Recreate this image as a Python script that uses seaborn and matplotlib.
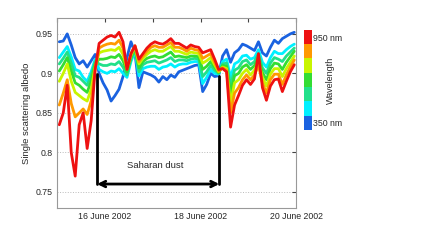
import pandas as pd
import matplotlib
matplotlib.use("Agg")
import matplotlib.pyplot as plt
from matplotlib.colors import ListedColormap, BoundaryNorm
from matplotlib.colorbar import ColorbarBase
import seaborn as sns

# sampling times (every 2 hours)
times = pd.date_range("2002-06-15 01:00", periods=60, freq="2h")

wavelengths = ["350 nm", "450 nm", "550 nm", "650 nm", "750 nm", "850 nm", "950 nm"]
colors = ["#1a62e0", "#00f0ff", "#22e08a", "#33dd33", "#c8f500", "#ff9900", "#ee1111"]

ssa_350 = [0.940, 0.941, 0.950, 0.936, 0.920, 0.912, 0.916, 0.908, 0.916, 0.924,
           0.900, 0.888, 0.879, 0.865, 0.872, 0.880, 0.896, 0.920, 0.940, 0.926,
           0.882, 0.902, 0.900, 0.898, 0.895, 0.889, 0.896, 0.892, 0.898, 0.895,
           0.902, 0.904, 0.906, 0.908, 0.910, 0.911, 0.877, 0.886, 0.900, 0.896,
           0.897, 0.922, 0.930, 0.914, 0.926, 0.930, 0.937, 0.935, 0.932, 0.929,
           0.940, 0.926, 0.922, 0.933, 0.942, 0.938, 0.944, 0.947, 0.950, 0.952]
ssa_450 = [0.920, 0.927, 0.934, 0.921, 0.905, 0.903, 0.895, 0.890, 0.902, 0.918,
           0.905, 0.902, 0.900, 0.903, 0.902, 0.906, 0.900, 0.895, 0.915, 0.928,
           0.897, 0.906, 0.908, 0.909, 0.909, 0.905, 0.908, 0.909, 0.912, 0.908,
           0.911, 0.912, 0.912, 0.914, 0.915, 0.915, 0.887, 0.895, 0.905, 0.900,
           0.899, 0.915, 0.918, 0.895, 0.912, 0.915, 0.922, 0.923, 0.918, 0.920,
           0.930, 0.914, 0.908, 0.920, 0.928, 0.925, 0.925, 0.930, 0.934, 0.937]
ssa_550 = [0.912, 0.919, 0.927, 0.913, 0.897, 0.895, 0.890, 0.885, 0.897, 0.915,
           0.912, 0.910, 0.910, 0.912, 0.911, 0.915, 0.908, 0.898, 0.918, 0.930,
           0.902, 0.911, 0.914, 0.915, 0.916, 0.913, 0.915, 0.917, 0.920, 0.915,
           0.917, 0.917, 0.916, 0.918, 0.919, 0.918, 0.896, 0.902, 0.910, 0.904,
           0.900, 0.912, 0.913, 0.885, 0.904, 0.907, 0.915, 0.917, 0.911, 0.915,
           0.925, 0.907, 0.900, 0.913, 0.920, 0.918, 0.915, 0.922, 0.927, 0.932]
ssa_650 = [0.903, 0.911, 0.920, 0.903, 0.888, 0.885, 0.880, 0.876, 0.890, 0.912,
           0.918, 0.918, 0.919, 0.921, 0.920, 0.924, 0.916, 0.902, 0.920, 0.932,
           0.907, 0.915, 0.919, 0.921, 0.922, 0.920, 0.921, 0.924, 0.927, 0.921,
           0.922, 0.921, 0.920, 0.922, 0.922, 0.921, 0.905, 0.909, 0.915, 0.908,
           0.901, 0.910, 0.909, 0.875, 0.897, 0.900, 0.908, 0.911, 0.905, 0.910,
           0.920, 0.901, 0.892, 0.906, 0.913, 0.912, 0.905, 0.914, 0.921, 0.928]
ssa_750 = [0.890, 0.900, 0.912, 0.890, 0.876, 0.872, 0.868, 0.865, 0.880, 0.908,
           0.926, 0.928, 0.929, 0.930, 0.929, 0.933, 0.924, 0.906, 0.923, 0.934,
           0.912, 0.919, 0.924, 0.928, 0.930, 0.928, 0.928, 0.931, 0.934, 0.928,
           0.928, 0.926, 0.924, 0.927, 0.926, 0.925, 0.913, 0.916, 0.920, 0.911,
           0.902, 0.908, 0.906, 0.862, 0.888, 0.892, 0.900, 0.905, 0.898, 0.904,
           0.915, 0.895, 0.884, 0.899, 0.906, 0.906, 0.896, 0.906, 0.914, 0.922]
ssa_850 = [0.860, 0.875, 0.892, 0.862, 0.845, 0.850, 0.855, 0.848, 0.865, 0.905,
           0.932, 0.935, 0.937, 0.938, 0.937, 0.942, 0.932, 0.905, 0.925, 0.935,
           0.915, 0.922, 0.928, 0.933, 0.935, 0.933, 0.933, 0.936, 0.939, 0.933,
           0.933, 0.931, 0.928, 0.932, 0.930, 0.929, 0.919, 0.922, 0.925, 0.914,
           0.903, 0.907, 0.904, 0.850, 0.875, 0.882, 0.892, 0.898, 0.892, 0.898,
           0.910, 0.888, 0.875, 0.892, 0.899, 0.899, 0.886, 0.898, 0.908, 0.917]
ssa_950 = [0.835, 0.850, 0.885, 0.800, 0.770, 0.835, 0.850, 0.805, 0.840, 0.905,
           0.938, 0.942, 0.946, 0.948, 0.946, 0.952, 0.940, 0.905, 0.925, 0.935,
           0.918, 0.925, 0.932, 0.937, 0.940, 0.938, 0.937, 0.940, 0.944, 0.938,
           0.938, 0.935, 0.932, 0.936, 0.934, 0.933, 0.926, 0.928, 0.930, 0.918,
           0.905, 0.906, 0.902, 0.832, 0.860, 0.872, 0.885, 0.892, 0.886, 0.893,
           0.925, 0.882, 0.866, 0.884, 0.892, 0.893, 0.877, 0.890, 0.902, 0.911]

series = [ssa_350, ssa_450, ssa_550, ssa_650, ssa_750, ssa_850, ssa_950]

# dust event markers
dust_start = pd.Timestamp("2002-06-15 20:00")
dust_end = pd.Timestamp("2002-06-18 09:20")
dust_top = [0.899, 0.897]
arrow_y = 0.76

ytick_vals = [0.75, 0.8, 0.85, 0.9, 0.95]
ytick_labels = ["0.75", "0.8", "0.85", "0.9", "0.95"]
xtick_days = pd.date_range("2002-06-15", "2002-06-20", freq="D")
xtick_labels = ["", "16 June 2002", "", "18 June 2002", "", "20 June 2002"]

frames = []
for wl, vals in zip(wavelengths, series):
    frames.append(pd.DataFrame({"time": times, "ssa": vals, "wavelength": wl}))
df = pd.concat(frames, ignore_index=True)

sns.set_style("white")
plt.rcParams["font.family"] = ["Liberation Sans", "DejaVu Sans"]

fig = plt.figure(figsize=(4.4, 2.41), dpi=100)
ax = fig.add_axes([0.1302, 0.138, 0.5432, 0.787])

sns.lineplot(data=df, x="time", y="ssa", hue="wavelength", palette=colors,
             linewidth=2.0, legend=False, ax=ax)

ax.set_xlim(pd.Timestamp("2002-06-15"), pd.Timestamp("2002-06-20"))
ax.set_ylim(0.73, 0.97)
ax.set_yticks(ytick_vals)
ax.set_yticklabels(ytick_labels)
ax.set_xticks(xtick_days)
ax.set_xticklabels(xtick_labels)
ax.set_xlabel("")
ax.set_ylabel("Single scattering albedo", fontsize=6.8, labelpad=4)
ax.tick_params(axis="both", labelsize=6.3, direction="in", length=3,
               top=True, right=True, pad=3, color="#444444")
for s in ax.spines.values():
    s.set_color("#999999")
    s.set_linewidth(0.8)
ax.yaxis.grid(True, linestyle=":", color="#bbbbbb", linewidth=0.7)

# dust annotation
ax.plot([dust_start, dust_start], [arrow_y, dust_top[0]], color="black", lw=2)
ax.plot([dust_end, dust_end], [arrow_y, dust_top[1]], color="black", lw=2)
ax.annotate("", xy=(dust_end, arrow_y), xytext=(dust_start, arrow_y),
            arrowprops=dict(arrowstyle="<->", color="black", lw=2,
                            shrinkA=0, shrinkB=0, mutation_scale=10))
ax.text(pd.Timestamp("2002-06-17 01:00"), 0.784, "Saharan dust",
        fontsize=6.8, ha="center", va="center")

# discrete wavelength colorbar
cax = fig.add_axes([0.691, 0.461, 0.0182, 0.415])
cmap = ListedColormap(colors)
norm = BoundaryNorm(list(range(8)), cmap.N)
cb = ColorbarBase(cax, cmap=cmap, norm=norm, orientation="vertical")
cb.set_ticks([0.5, 6.5])
cb.set_ticklabels(["350 nm", "950 nm"])
cb.outline.set_visible(False)
cax.minorticks_off()
cax.tick_params(which="both", length=0, labelsize=6.3, pad=1)
cax.text(3.3, 0.5, "Wavelength", rotation=90, fontsize=6.5,
         ha="center", va="center", transform=cax.transAxes)

fig.savefig("out.png", dpi=100)
